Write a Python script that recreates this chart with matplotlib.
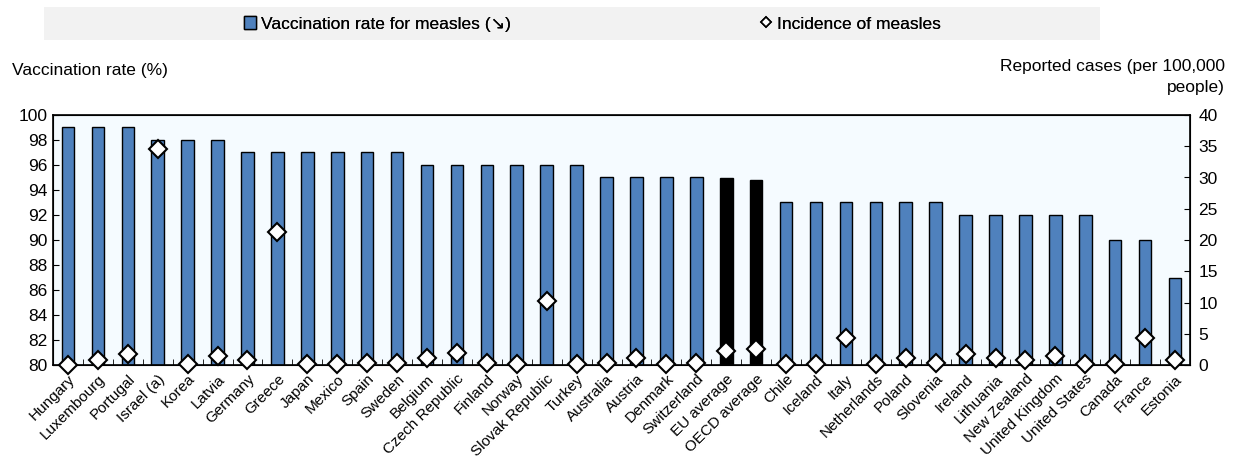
import numpy as np
import matplotlib
matplotlib.use("Agg")
import matplotlib.pyplot as plt
from matplotlib.lines import Line2D
from matplotlib.patches import Patch, Rectangle

plt.rcParams['font.family'] = ['Liberation Sans Narrow', 'Liberation Sans', 'DejaVu Sans']

paises = ["Hungary", "Luxembourg", "Portugal", "Israel (a)", "Korea", "Latvia", "Germany",
          "Greece", "Japan", "Mexico", "Spain", "Sweden", "Belgium", "Czech Republic",
          "Finland", "Norway", "Slovak Republic", "Turkey", "Australia", "Austria",
          "Denmark", "Switzerland", "EU average", "OECD average", "Chile", "Iceland",
          "Italy", "Netherlands", "Poland", "Slovenia", "Ireland", "Lithuania",
          "New Zealand", "United Kingdom", "United States", "Canada", "France", "Estonia"]

vacunacion = [99, 99, 99, 98, 98, 98, 97, 97, 97, 97, 97, 97, 96, 96, 96, 96, 96, 96,
              95, 95, 95, 95, 94.95, 94.8, 93, 93, 93, 93, 93, 93, 92, 92, 92, 92, 92,
              90, 90, 87]

incidencia = [0.0, 0.8, 1.8, 34.6, 0.1, 1.5, 0.8, 21.2, 0.1, 0.1, 0.4, 0.4, 1.1, 2.0,
              0.3, 0.1, 10.3, 0.1, 0.3, 1.1, 0.1, 0.3, 2.3, 2.6, 0.1, 0.2, 4.3, 0.1,
              1.1, 0.4, 1.7, 1.1, 0.8, 1.4, 0.1, 0.1, 4.3, 0.8]

promedios = ["EU average", "OECD average"]
azul = "#4F81BD"

fig = plt.figure(figsize=(12.33, 4.61), dpi=100)
ax = fig.add_axes([53 / 1233, 1 - 365 / 461, 1137 / 1233, 250 / 461])
ax.set_facecolor("#F5FBFF")

x = np.arange(len(paises))
colores = ["black" if p in promedios else azul for p in paises]
ax.bar(x, [v - 80 for v in vacunacion], bottom=80, width=0.42, color=colores,
       edgecolor="black", linewidth=1.0, zorder=2)
ax.set_xlim(-0.5, len(paises) - 0.5)
ax.set_ylim(80, 100)
ax.set_yticks(range(80, 101, 2))
ax.tick_params(axis="y", direction="in", length=4, labelsize=12.5, pad=4)
ax.set_xticks(x)
ax.set_xticklabels(paises, rotation=45, ha="right", rotation_mode="anchor", fontsize=11)
ax.tick_params(axis="x", length=0, pad=5)
ax.set_xticks(np.arange(-0.5, len(paises)), minor=True)
ax.tick_params(axis="x", which="minor", direction="in", length=4)
for s in ax.spines.values():
    s.set_linewidth(1.2)

ax2 = ax.twinx()
ax2.plot(x, incidencia, linestyle="none", marker="D", markersize=9.5,
         markerfacecolor="white", markeredgecolor="black", markeredgewidth=1.5,
         clip_on=False, zorder=5)
ax2.set_ylim(0, 40)
ax2.set_yticks(range(0, 41, 5))
ax2.tick_params(axis="y", direction="in", length=4, labelsize=12.5, pad=6)

fig.text(12 / 1233, 1 - 70 / 461, "Vaccination rate (%)", fontsize=12.5, va="center")
fig.text(1225 / 1233, 1 - 77 / 461, "Reported cases (per 100,000\npeople)", fontsize=12.5,
         va="center", ha="right", linespacing=1.5)

# Leyenda en banda gris
fig.patches.append(Rectangle((44 / 1233, 1 - 40 / 461), 1056 / 1233, 33 / 461,
                             transform=fig.transFigure, facecolor="#F2F2F2",
                             edgecolor="none", zorder=0))
h1 = Patch(facecolor=azul, edgecolor="black", linewidth=1.0)
h2 = Line2D([], [], linestyle="none", marker="D", markersize=5.5, markerfacecolor="white",
            markeredgecolor="black", markeredgewidth=1.2)
for h, txt, xpos in [(h1, "Vaccination rate for measles (\u2198)", 244),
                     (h2, "Incidence of measles", 760)]:
    leg = fig.legend([h], [txt], loc="center left", bbox_to_anchor=(xpos / 1233, 1 - 24 / 461),
                     frameon=False, fontsize=12.5, handlelength=0.7, handleheight=0.7,
                     handletextpad=0.3, borderpad=0, borderaxespad=0)
    fig.add_artist(leg)

fig.savefig("out.png", dpi=100)
